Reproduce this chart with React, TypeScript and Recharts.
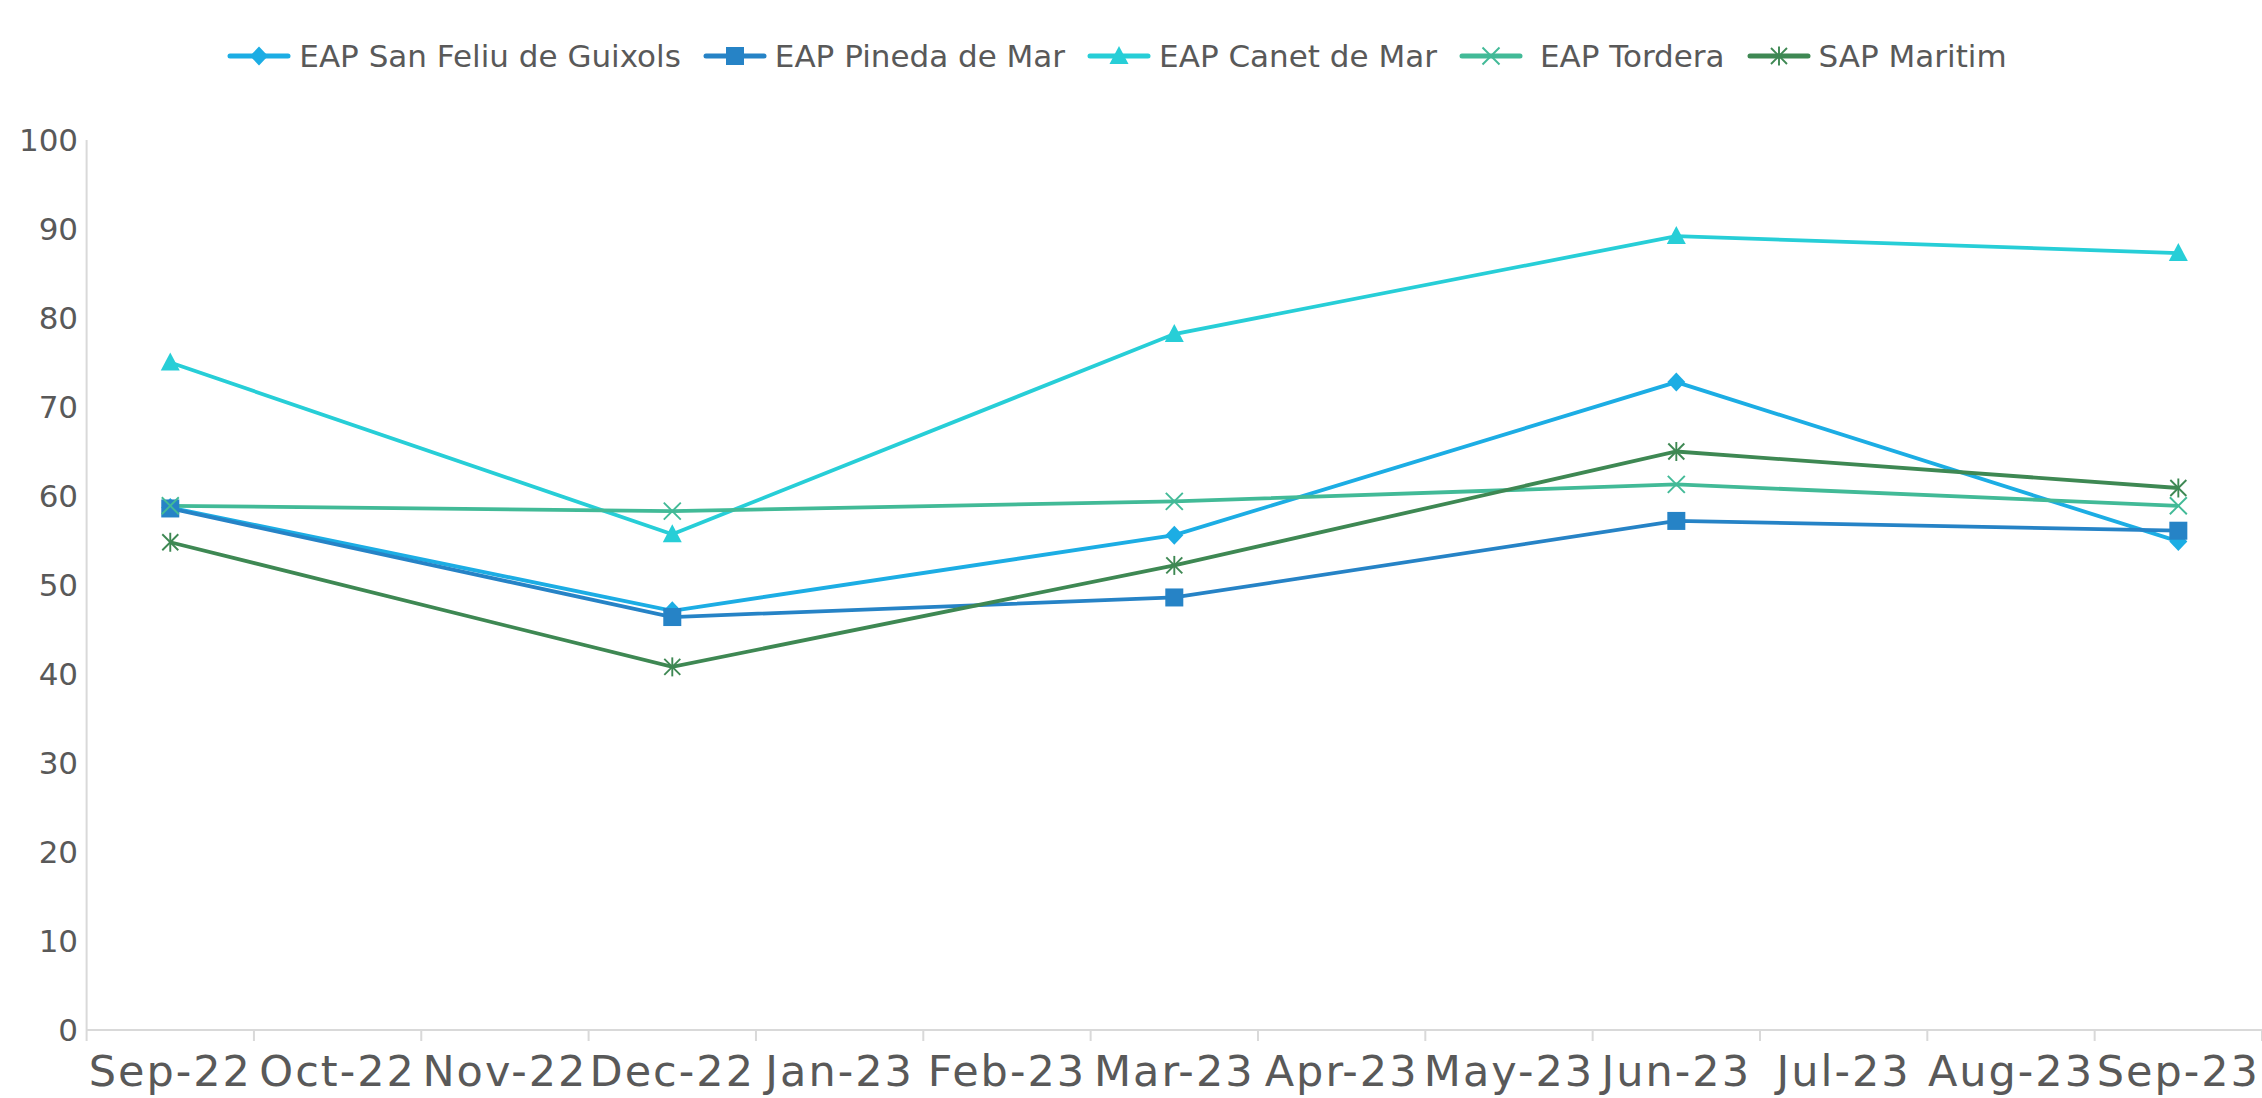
import React from 'react';
import { LineChart, Line, XAxis, YAxis, Legend } from 'recharts';

const W = 2262;
const H = 1098;
const FONT = '"DejaVu Sans", sans-serif';
const TEXT = '#595959';
const AXIS = '#D9D9D9';

// Categories (monthly axis) and the months that carry measurements
const months = ['Sep-22', 'Oct-22', 'Nov-22', 'Dec-22', 'Jan-23', 'Feb-23', 'Mar-23', 'Apr-23', 'May-23', 'Jun-23', 'Jul-23', 'Aug-23', 'Sep-23'];
const sampleMonths = ['Sep-22', 'Dec-22', 'Mar-23', 'Jun-23', 'Sep-23'];

// Series values
const sanFeliu = [58.7, 47.1, 55.6, 72.8, 54.9];
const pineda = [58.6, 46.4, 48.6, 57.2, 56.1];
const canet = [75.0, 55.7, 78.2, 89.2, 87.3];
const tordera = [58.9, 58.3, 59.4, 61.3, 58.9];
const sapMaritim = [54.8, 40.8, 52.2, 65.0, 60.9];

const yTicks = [0, 10, 20, 30, 40, 50, 60, 70, 80, 90, 100];

const series = [
  { key: 'sanFeliu', name: 'EAP San Feliu de Guixols', color: '#1CADE4', marker: 'diamond', values: sanFeliu },
  { key: 'pineda', name: 'EAP Pineda de Mar', color: '#2683C6', marker: 'square', values: pineda },
  { key: 'canet', name: 'EAP Canet de Mar', color: '#27CED7', marker: 'triangle', values: canet },
  { key: 'tordera', name: 'EAP Tordera', color: '#42BA97', marker: 'x', values: tordera },
  { key: 'sapMaritim', name: 'SAP Maritim', color: '#3E8853', marker: 'star', values: sapMaritim },
];

const data = sampleMonths.map((m, i) => {
  const row: Record<string, any> = { month: m, pos: months.indexOf(m) + 0.5 };
  series.forEach((s) => {
    row[s.key] = s.values[i];
  });
  return row;
});

const xTicks = months.map((_, i) => i + 0.5);

const PLOT_LEFT = 86.6;
const BAND = (W - PLOT_LEFT) / months.length;

function Marker({ type, cx, cy, color }: { type: string; cx: number; cy: number; color: string }) {
  if (cx == null || cy == null) return null;
  switch (type) {
    case 'diamond':
      return <polygon points={`${cx},${cy - 9.5} ${cx + 9},${cy} ${cx},${cy + 9.5} ${cx - 9},${cy}`} fill={color} />;
    case 'square':
      return <rect x={cx - 9} y={cy - 9} width={18} height={18} fill={color} />;
    case 'triangle':
      return <polygon points={`${cx},${cy - 10} ${cx + 9.5},${cy + 8} ${cx - 9.5},${cy + 8}`} fill={color} />;
    case 'x':
      return (
        <g stroke={color} strokeWidth={1.9}>
          <line x1={cx - 8.5} y1={cy - 8.5} x2={cx + 8.5} y2={cy + 8.5} />
          <line x1={cx - 8.5} y1={cy + 8.5} x2={cx + 8.5} y2={cy - 8.5} />
        </g>
      );
    case 'star':
      return (
        <g stroke={color} strokeWidth={1.9}>
          <line x1={cx - 8} y1={cy - 8} x2={cx + 8} y2={cy + 8} />
          <line x1={cx - 8} y1={cy + 8} x2={cx + 8} y2={cy - 8} />
          <line x1={cx} y1={cy - 9.5} x2={cx} y2={cy + 9.5} />
        </g>
      );
    default:
      return null;
  }
}

const XTick = (props: any) => {
  const { x, y, payload, index } = props;
  const label = months[Math.round(payload.value - 0.5)];
  const isLast = index === months.length - 1;
  return (
    <g>
      <line x1={x - BAND / 2} x2={x - BAND / 2} y1={y} y2={y + 11} stroke={AXIS} strokeWidth={2} />
      {isLast && <line x1={x + BAND / 2} x2={x + BAND / 2} y1={y} y2={y + 11} stroke={AXIS} strokeWidth={2} />}
      <text x={x} y={y + 25} dy="0.71em" textAnchor="middle" fontSize={43} fill={TEXT} fontFamily={FONT} letterSpacing={2}>
        {label}
      </text>
    </g>
  );
};

const YTick = (props: any) => {
  const { x, y, payload } = props;
  return (
    <text x={x - 8.5} y={y} dy="0.36em" textAnchor="end" fontSize={31} fill={TEXT} fontFamily={FONT}>
      {payload.value}
    </text>
  );
};

const LegendContent = () => (
  <div
    style={{
      display: 'flex',
      justifyContent: 'center',
      alignItems: 'center',
      gap: 22,
      fontFamily: FONT,
      fontSize: 31,
      color: TEXT,
      whiteSpace: 'nowrap',
    }}
  >
    {series.map((s) => (
      <div key={s.key} style={{ display: 'flex', alignItems: 'center' }}>
        <svg width={64} height={30} style={{ display: 'block' }}>
          <line x1={3} x2={61} y1={15} y2={15} stroke={s.color} strokeWidth={5} strokeLinecap="round" />
          <Marker type={s.marker} cx={32} cy={15} color={s.color} />
        </svg>
        <span style={{ marginLeft: s.key === 'tordera' ? 17 : 8 }}>{s.name}</span>
      </div>
    ))}
  </div>
);

export default function App() {
  return (
    <div style={{ position: 'absolute', left: 0, top: 0, width: W, height: H, background: '#ffffff' }}>
      <LineChart width={W} height={H} data={data} margin={{ top: 140, right: 0, bottom: 0, left: 0 }}>
        <XAxis
          type="number"
          dataKey="pos"
          domain={[0, months.length]}
          ticks={xTicks}
          interval={0}
          height={68}
          tickSize={0}
          tickMargin={0}
          tickLine={false}
          axisLine={{ stroke: AXIS, strokeWidth: 2 }}
          tick={<XTick />}
          allowDataOverflow
        />
        <YAxis
          type="number"
          domain={[0, 100]}
          ticks={yTicks}
          interval={0}
          width={PLOT_LEFT}
          tickSize={0}
          tickMargin={0}
          tickLine={false}
          axisLine={{ stroke: AXIS, strokeWidth: 2 }}
          tick={<YTick />}
        />
        <Legend
          layout="horizontal"
          verticalAlign="middle"
          align="center"
          wrapperStyle={{ top: 38, left: -14, width: W }}
          content={<LegendContent />}
        />
        {series.map((s) => (
          <Line
            key={s.key}
            type="linear"
            dataKey={s.key}
            name={s.name}
            stroke={s.color}
            strokeWidth={3.8}
            isAnimationActive={false}
            connectNulls
            activeDot={false}
            dot={(p: any) => <Marker key={`${s.key}-${p.index}`} type={s.marker} cx={p.cx} cy={p.cy} color={s.color} />}
          />
        ))}
      </LineChart>
    </div>
  );
}
